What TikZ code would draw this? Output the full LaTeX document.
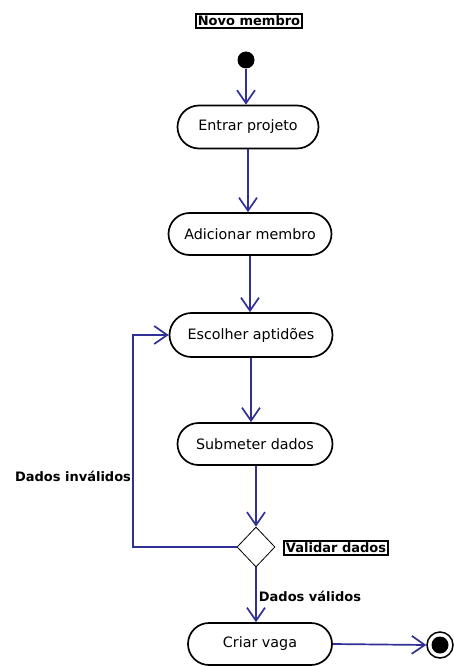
\documentclass[tikz,border=0pt]{standalone}
\usepackage{fontspec}
\setmainfont{DejaVu Sans}
\usetikzlibrary{shapes.misc,shapes.geometric,arrows.meta}
\definecolor{flow}{RGB}{48,48,150}
\begin{document}
\begin{tikzpicture}[x=1pt,y=-1pt,
  activity/.style={rounded rectangle, draw=black, line width=1.7pt, fill=white,
    minimum height=43pt, inner sep=0pt, font=\fontsize{14.3}{17}\selectfont},
  tag/.style={font=\bfseries\fontsize{13}{15}\selectfont, inner sep=1.5pt},
  boxtag/.style={tag, draw=black, line width=1.6pt, inner sep=2pt},
  flowline/.style={draw=flow, line width=1.7pt},
  flowarrow/.style={flowline, -{Straight Barb[length=13pt,width=18pt,line width=1.7pt]}},
  choice/.style={diamond, draw=black, line width=0.8pt, minimum width=38pt,
    minimum height=40pt, inner sep=0pt, aspect=0.95}]
\useasboundingbox (0,0) rectangle (453,666);

% title and start
\node[boxtag] (title) at (249,21) {Novo membro};
\node[circle, fill=black, minimum size=17pt, inner sep=0pt] (start) at (246,60) {};

% activities
\node[activity, minimum width=141pt] (entrar) at (248,127) {Entrar projeto};
\node[activity, minimum width=163pt, minimum height=42pt] (adicionar) at (250,234) {Adicionar membro};
\node[activity, minimum width=163pt, minimum height=44pt] (escolher) at (251,335) {Escolher aptidões};
\node[activity, minimum width=155pt, minimum height=42pt] (submeter) at (255,444) {Submeter dados};
\node[choice] (validar) at (256,547) {};
\node[activity, minimum width=144pt, minimum height=42pt] (criar) at (260,644) {Criar vaga};

% end state
\node[circle, draw=black, line width=1.5pt, minimum size=26pt, inner sep=0pt] (fim) at (440,645) {};
\node[circle, fill=black, minimum size=17pt, inner sep=0pt] (fimdot) at (fim) {};

% labels
\node[boxtag] (valtag) at (336,548) {Validar dados};
\node[tag] (invalidos) at (73,476) {Dados inválidos};
\node[tag] (validos) at (310,596) {Dados válidos};

% loop corner
\coordinate (loop) at (133,440);

% connectors
\draw[flowarrow] (start.south) -- (start.south |- entrar.north);
\draw[flowarrow] (entrar.south) -- (entrar.south |- adicionar.north);
\draw[flowarrow] (adicionar.south) -- (adicionar.south |- escolher.north);
\draw[flowarrow] (escolher.south) -- (escolher.south |- submeter.north);
\draw[flowarrow] (submeter.south -| validar.north) -- (validar.north);
\draw[flowarrow] (validar.south) -- (validar.south |- criar.north);
\draw[flowarrow] (validar.west) -| (loop) |- (escolher.west);
\draw[flowarrow] (criar.east) -- (fim.west);
\end{tikzpicture}
\end{document}
